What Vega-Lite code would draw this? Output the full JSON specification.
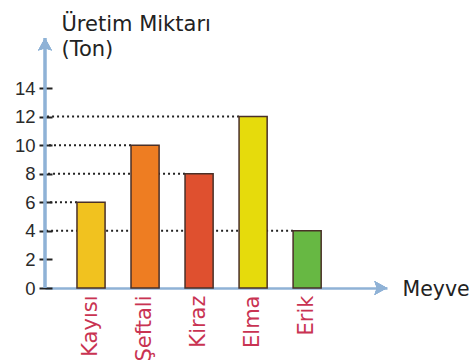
{
  "$schema": "https://vega.github.io/schema/vega-lite/v6.json",
  "width": 342,
  "height": 250,
  "autosize": "none",
  "padding": {"left": 45, "top": 38, "right": 88, "bottom": 75},
  "background": "white",
  "config": {"view": {"stroke": null}},
  "data": {
    "values": [
      {"Meyve": "Kayısı", "Miktar": 6},
      {"Meyve": "Şeftali", "Miktar": 10},
      {"Meyve": "Kiraz", "Miktar": 8},
      {"Meyve": "Elma", "Miktar": 12},
      {"Meyve": "Erik", "Miktar": 4}
    ]
  },
  "encoding": {
    "x": {
      "field": "Meyve",
      "type": "nominal",
      "sort": null,
      "scale": {"paddingInner": 0.48, "paddingOuter": 0.905, "align": 0.327},
      "axis": {
        "domain": true,
        "domainColor": "#8fb2d6",
        "domainWidth": 2.5,
        "ticks": false,
        "grid": false,
        "labelAngle": -90,
        "labelPadding": 7,
        "labelFont": "DejaVu Sans",
        "labelFontSize": 21,
        "labelColor": "#c93352",
        "title": "Meyve",
        "titleAngle": 0,
        "titleAlign": "left",
        "titleBaseline": "alphabetic",
        "titleX": 357,
        "titleY": 7,
        "titleFont": "DejaVu Sans",
        "titleFontSize": 20.5,
        "titleFontWeight": "normal",
        "titleColor": "#222"
      }
    },
    "y": {
      "field": "Miktar",
      "type": "quantitative",
      "scale": {"domain": [0, 17.5], "nice": false},
      "axis": {
        "values": [0, 2, 4, 6, 8, 10, 12, 14],
        "domain": false,
        "grid": false,
        "offset": -7,
        "tickSize": 13,
        "tickWidth": 2,
        "tickColor": "#222",
        "labelFont": "Liberation Sans",
        "labelFontSize": 18.5,
        "labelPadding": 4,
        "labelColor": "#2a2a2a",
        "title": ["Üretim Miktarı", "(Ton)"],
        "titleAngle": 0,
        "titleAlign": "left",
        "titleBaseline": "alphabetic",
        "titleX": 9,
        "titleY": -8,
        "titleFont": "DejaVu Sans",
        "titleFontSize": 21,
        "titleFontWeight": "normal",
        "titleLineHeight": 25,
        "titleColor": "#222"
      }
    }
  },
  "layer": [
    {
      "mark": {"type": "rule", "color": "#222", "strokeWidth": 2, "strokeDash": [2, 3]},
      "encoding": {
        "x": {"field": "Meyve", "type": "nominal", "sort": null, "bandPosition": 0},
        "x2": {"value": 0}
      }
    },
    {
      "mark": {"type": "bar", "stroke": "#4a3028", "strokeWidth": 1.5, "opacity": 1},
      "encoding": {
        "color": {
          "field": "Meyve",
          "type": "nominal",
          "scale": {
            "domain": ["Kayısı", "Şeftali", "Kiraz", "Elma", "Erik"],
            "range": ["#f1c21f", "#ee7d22", "#df502f", "#e6db0c", "#67b843"]
          },
          "legend": null
        }
      }
    },
    {
      "mark": {"type": "rule", "color": "#8fb2d6", "strokeWidth": 2.5},
      "encoding": {"x": {"value": 0}, "y": null}
    },
    {
      "mark": {
        "type": "point",
        "filled": true,
        "opacity": 1,
        "color": "#8fb2d6",
        "size": 144,
        "shape": "M0,0L1.15,2.1L0,1.7L-1.15,2.1Z"
      },
      "encoding": {"x": {"value": 0}, "y": {"value": 0}}
    },
    {
      "mark": {
        "type": "point",
        "filled": true,
        "opacity": 1,
        "color": "#8fb2d6",
        "size": 144,
        "shape": "M0,0L-2.1,-1.15L-1.7,0L-2.1,1.15Z"
      },
      "encoding": {"x": {"value": "width"}, "y": {"value": "height"}}
    }
  ]
}
